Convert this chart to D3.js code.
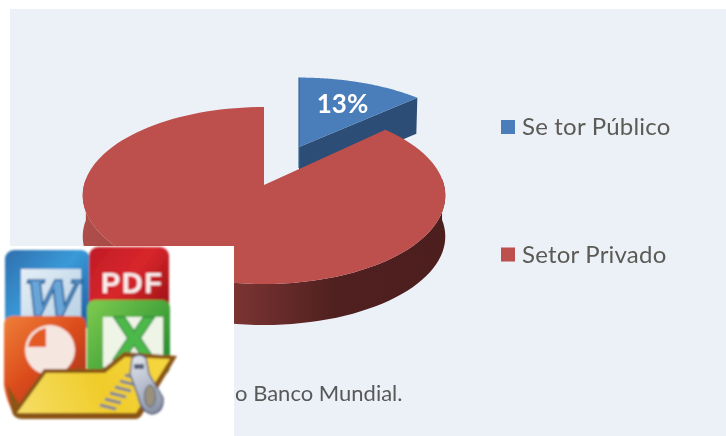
<!DOCTYPE html>
<html>
<head>
<meta charset="utf-8">
<script src="https://cdn.jsdelivr.net/npm/d3@7"></script>
<style>
html,body{margin:0;padding:0;background:#fff;overflow:hidden}
svg{display:block}
text{font-family:Lato,"Open Sans",sans-serif}
</style>
</head>
<body>
<div id="chart"></div>
<script>
const categories = ["Se tor Público", "Setor Privado"];
const values = [13, 87];
const colors = ["#4a7ebb", "#bd4f4c"];
const sideColors = ["#2c4d75"];
const footerText = "o Banco Mundial.";
const W = 726, H = 436;

const svg = d3.select("#chart").append("svg").attr("width", W).attr("height", H);
const defs = svg.append("defs");
defs.append("filter").attr("id","soft").attr("x","-5%").attr("y","-5%").attr("width","110%").attr("height","110%")
  .append("feGaussianBlur").attr("stdDeviation",0.5);
defs.append("filter").attr("id","softIcon").attr("x","-5%").attr("y","-5%").attr("width","110%").attr("height","110%")
  .append("feGaussianBlur").attr("stdDeviation",0.85);

function lin(id, x1,y1,x2,y2, stops){
  const g = defs.append("linearGradient").attr("id",id).attr("gradientUnits","userSpaceOnUse")
    .attr("x1",x1).attr("y1",y1).attr("x2",x2).attr("y2",y2);
  stops.forEach(s=>g.append("stop").attr("offset",s[0]).attr("stop-color",s[1]));
}
lin("redSide",82,0,445,0,[[0,"#ae4e4b"],[0.2,"#a04542"],[0.42,"#7a3432"],[0.7,"#4f201f"],[1,"#4c1e1d"]]);

// background panel
svg.append("rect").attr("x",10).attr("y",9).attr("width",W-10).attr("height",H-9).attr("fill","#ecf1f8");

// perspective projection of the pie disc
const scaleU = d3.scaleLinear().domain([-1,1]).range([-180,180]);
const persp = -0.1186, vScale = 87.26;
const cx = 264, cy = 185, depth = 41;
function project(a, sx=1, sy=1, ox=0, oy=0){
  const u = Math.sin(a), v = -Math.cos(a), d = 1 + persp*v;
  return [cx + ox + sx*scaleU(u)/d, cy + oy + sy*vScale*v/d];
}
const arcs = d3.pie().sort(null).value(d=>d)(values);
const line = d3.line();
function arcPts(arc, sx, sy, ox, oy){
  return d3.range(0,121).map(i=>{
    const a = arc.startAngle + (arc.endAngle-arc.startAngle)*i/120;
    return project(a,sx,sy,ox,oy);
  });
}

// blue slice (exploded)
const bOpts = [0.975, 0.89, 35, -38];
const bPts = arcPts(arcs[0], ...bOpts);
const bApex = [cx+bOpts[2], cy+bOpts[3]];
const bEnd = bPts[bPts.length-1];
const bDepth = 36;
svg.append("path").attr("fill",sideColors[0])
  .attr("d",line([bApex,bEnd,[bEnd[0]-1,bEnd[1]+bDepth],[bApex[0],bApex[1]+bDepth]])+"Z");
svg.append("path").attr("fill",colors[0]).attr("d",line([bApex,...bPts])+"Z");
svg.append("path").attr("fill","none").attr("stroke","#3a6597").attr("stroke-width",1.2)
  .attr("d",line([bPts[0],[bApex[0],bApex[1]+21]]));

// red slice
const rPts = arcPts(arcs[1], 1, 1, 0, 0);
const front = rPts.filter((p,i)=>{
  const a = arcs[1].startAngle + (arcs[1].endAngle-arcs[1].startAngle)*i/120;
  return a > Math.PI*0.47 && a < Math.PI*1.53;
});
svg.append("path").attr("fill","url(#redSide)")
  .attr("d",line([...front,...front.slice().reverse().map(p=>[p[0],p[1]+depth])])+"Z");
svg.append("path").attr("fill",colors[1]).attr("d",line([[cx,cy],...rPts])+"Z");

// data label
svg.append("text").attr("x",342.5).attr("y",113).attr("text-anchor","middle")
  .attr("font-size",26).attr("font-weight",700).attr("fill","#fff")
  .attr("filter","url(#soft)").text(values[0]+"%");

// legend
const legY = d3.scalePoint().domain(categories).range([127,254.5]);
const leg = svg.append("g").selectAll("g").data(categories).join("g")
  .attr("transform",d=>`translate(0,${legY(d)})`);
leg.append("rect").attr("x",501).attr("y",-7).attr("width",14).attr("height",14)
  .attr("fill",(d,i)=>colors[i]);
leg.append("text").attr("x",522).attr("y",8).attr("font-size",24).attr("letter-spacing",0.2).attr("fill","#5c5a55")
  .attr("filter","url(#soft)").text(d=>d);

// footer text
svg.append("text").attr("x",402.5).attr("y",401).attr("text-anchor","end")
  .attr("font-size",22).attr("fill","#595959").attr("filter","url(#soft)").text(footerText);

// white pasted picture
svg.append("rect").attr("x",0).attr("y",246).attr("width",234).attr("height",190).attr("fill","#fff");

// office-folder icon
const ic = svg.append("g").attr("filter","url(#softIcon)");
lin("wordG",5,250,88,325,[[0,"#2f6fae"],[0.5,"#3a9ad8"],[1,"#1d5fa0"]]);
lin("wordIn",22,270,80,320,[[0,"#e4eef6"],[1,"#b9d2e6"]]);
lin("pdfG",90,247,168,310,[[0,"#c01c26"],[0.5,"#d8262c"],[1,"#9c1216"]]);
lin("xlG",88,300,170,370,[[0,"#7fcb4f"],[1,"#1f8a2e"]]);
lin("pptG",4,315,86,400,[[0,"#ee8038"],[0.5,"#dc4c1c"],[1,"#a03018"]]);
lin("foldG",30,420,160,360,[[0,"#f5dc60"],[0.55,"#f0cc2a"],[1,"#f5d63e"]]);
lin("zipG",130,355,165,415,[[0,"#e6e9ef"],[0.5,"#b4bbcb"],[1,"#7d859a"]]);

ic.append("rect").attr("x",5).attr("y",250).attr("width",85).attr("height",80).attr("rx",9).attr("fill","url(#wordG)");
ic.append("rect").attr("x",21).attr("y",269).attr("width",60).attr("height",52).attr("fill","url(#wordIn)");
ic.append("text").attr("x",52).attr("y",316).attr("text-anchor","middle").attr("font-size",48)
  .attr("font-weight",700).attr("font-style","italic").style("font-family","'DejaVu Serif'")
  .attr("fill","#6aa5d8").attr("stroke","#1f5f99").attr("stroke-width",1.6).text("W");

ic.append("rect").attr("x",89).attr("y",247).attr("width",80).attr("height",68).attr("rx",9).attr("fill","url(#pdfG)");
ic.append("text").attr("x",131.5).attr("y",293).attr("text-anchor","middle").attr("font-size",29)
  .attr("font-weight",700).attr("textLength",61).style("font-family","'Liberation Sans'").attr("fill","#fbeeee").text("PDF");

ic.append("rect").attr("x",87).attr("y",300).attr("width",83).attr("height",75).attr("rx",8).attr("fill","url(#xlG)");
ic.append("rect").attr("x",103).attr("y",317).attr("width",60).attr("height",50).attr("fill","#eef4e6");
ic.append("text").attr("x",134).attr("y",360).attr("text-anchor","middle").attr("font-size",58)
  .attr("font-weight",700).style("font-family","'DejaVu Sans'")
  .attr("fill","#4cb848").attr("stroke","#1c7f30").attr("stroke-width",1).text("X");

ic.append("path").attr("fill","url(#pptG)")
  .attr("d","M12,316 H78 Q86,316 86,326 V385 L40,400 L14,414 Q6,400 4,385 V326 Q4,316 12,316Z");
ic.append("circle").attr("cx",50).attr("cy",350).attr("r",25).attr("fill","#f6e6e0");
ic.append("path").attr("fill","#e35a24").attr("d","M46,347 V328 A22,22 0 0 0 28,347Z");

ic.append("path").attr("fill","#8a5518")
  .attr("d","M7,384 L12,412 Q14,419 22,419 L135,419 Q140,419 143,413 L177,356 L124,352 L103,369 L44,369 L19,404 Z");
ic.append("path").attr("fill","url(#foldG)")
  .attr("d","M17,413 L46,373 L105,373 L125,357 L170,359 L136,413 Z");

// zipper
const zip = ic.append("g");
d3.range(6).forEach(i=>{
  zip.append("line").attr("x1",100+i*5).attr("y1",405-i*6).attr("x2",116+i*5).attr("y2",409-i*6)
    .attr("stroke","#7f8698").attr("stroke-width",3);
});
zip.append("path").attr("fill","url(#zipG)").attr("stroke","#59607a").attr("stroke-width",1.4)
  .attr("d","M132,358 Q139,352 146,358 L149,374 L163,398 Q164,412 152,414 Q141,412 138,396 L130,374 Z");
zip.append("ellipse").attr("cx",150).attr("cy",396).attr("rx",5.5).attr("ry",11).attr("fill","#9a917c").attr("stroke","#5a6074");
zip.append("rect").attr("x",134).attr("y",364).attr("width",10).attr("height",5).attr("fill","#59607a");
</script>
</body>
</html>
